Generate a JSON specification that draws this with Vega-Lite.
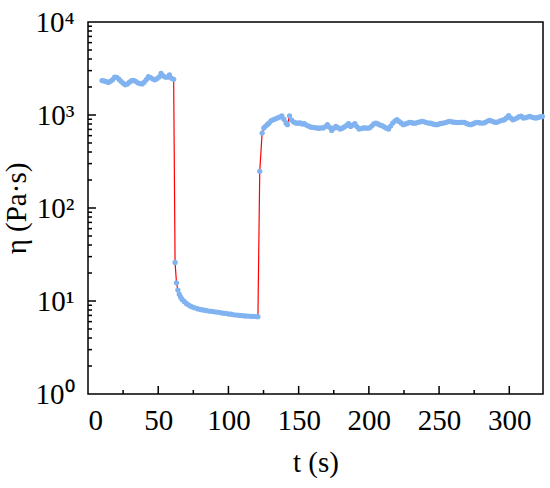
{
  "$schema": "https://vega.github.io/schema/vega-lite/v6.json",
  "width": 455,
  "height": 372,
  "autosize": "none",
  "padding": {"left": 88, "top": 22, "right": 7, "bottom": 94},
  "background": "white",
  "config": {
    "view": {"stroke": "black", "strokeWidth": 1.5},
    "font": "Liberation Serif",
    "axis": {
      "grid": false,
      "domain": false,
      "ticks": false,
      "tickSize": 0,
      "labelColor": "black",
      "titleColor": "black",
      "labelFont": "Liberation Serif",
      "titleFont": "Liberation Serif",
      "labelFontSize": 29,
      "titleFontSize": 29,
      "titleFontWeight": "normal",
      "labelOverlap": false
    },
    "rule": {"color": "black", "strokeWidth": 1.5}
  },
  "datasets": {
    "curve": [
      {"t": 10, "v": 2345}, {"t": 11.5, "v": 2320}, {"t": 13, "v": 2280}, {"t": 14.5, "v": 2240},
      {"t": 16, "v": 2300}, {"t": 17.5, "v": 2400}, {"t": 19, "v": 2560}, {"t": 20.5, "v": 2540},
      {"t": 22, "v": 2430}, {"t": 23.5, "v": 2300}, {"t": 25, "v": 2200}, {"t": 26.5, "v": 2110},
      {"t": 28, "v": 2160}, {"t": 29.5, "v": 2250}, {"t": 31, "v": 2340}, {"t": 32.5, "v": 2350},
      {"t": 34, "v": 2300}, {"t": 35.5, "v": 2220}, {"t": 37, "v": 2180}, {"t": 38.5, "v": 2160},
      {"t": 40, "v": 2250}, {"t": 41.5, "v": 2400}, {"t": 43, "v": 2580}, {"t": 44.5, "v": 2520},
      {"t": 46, "v": 2450}, {"t": 47.5, "v": 2390}, {"t": 49, "v": 2450}, {"t": 50.5, "v": 2560},
      {"t": 52, "v": 2800}, {"t": 53.5, "v": 2640}, {"t": 55, "v": 2560}, {"t": 56.5, "v": 2550},
      {"t": 58, "v": 2700}, {"t": 59.5, "v": 2480}, {"t": 61, "v": 2420},
      {"t": 62, "v": 26}, {"t": 63, "v": 15.7}, {"t": 64, "v": 13.1}, {"t": 65, "v": 11.8},
      {"t": 66, "v": 11.0}, {"t": 67, "v": 10.4}, {"t": 68.5, "v": 9.9}, {"t": 70, "v": 9.4},
      {"t": 71.5, "v": 9.1}, {"t": 73, "v": 8.8}, {"t": 74.5, "v": 8.6}, {"t": 76, "v": 8.45},
      {"t": 78, "v": 8.25}, {"t": 80, "v": 8.1}, {"t": 82, "v": 8.0}, {"t": 84, "v": 7.9},
      {"t": 86, "v": 7.8}, {"t": 88, "v": 7.75}, {"t": 90, "v": 7.65}, {"t": 92, "v": 7.6},
      {"t": 94, "v": 7.5}, {"t": 96, "v": 7.4}, {"t": 98, "v": 7.35}, {"t": 100, "v": 7.25},
      {"t": 102, "v": 7.2}, {"t": 104, "v": 7.1}, {"t": 106, "v": 7.05}, {"t": 108, "v": 7.0},
      {"t": 110, "v": 6.95}, {"t": 112, "v": 6.9}, {"t": 114, "v": 6.88}, {"t": 116, "v": 6.85},
      {"t": 118, "v": 6.82}, {"t": 120, "v": 6.8}, {"t": 121, "v": 6.78},
      {"t": 122.3, "v": 248}, {"t": 124, "v": 640}, {"t": 125.2, "v": 725}, {"t": 126.5, "v": 760},
      {"t": 127.8, "v": 790}, {"t": 129, "v": 820}, {"t": 130.5, "v": 870}, {"t": 132, "v": 890},
      {"t": 133.5, "v": 910}, {"t": 135, "v": 930}, {"t": 136.5, "v": 950}, {"t": 138, "v": 980},
      {"t": 139.5, "v": 900}, {"t": 141, "v": 820}, {"t": 142, "v": 786}, {"t": 143.5, "v": 980},
      {"t": 145, "v": 880}, {"t": 146.5, "v": 840}, {"t": 148, "v": 820}, {"t": 149.5, "v": 815},
      {"t": 151, "v": 820}, {"t": 152.5, "v": 800}, {"t": 154, "v": 805}, {"t": 155.5, "v": 780},
      {"t": 157, "v": 760}, {"t": 158.5, "v": 743}, {"t": 160, "v": 735}, {"t": 161.5, "v": 730},
      {"t": 163, "v": 725}, {"t": 164.5, "v": 720}, {"t": 166, "v": 728}, {"t": 167.5, "v": 725},
      {"t": 169, "v": 750}, {"t": 170.5, "v": 786}, {"t": 172, "v": 740}, {"t": 173.5, "v": 683},
      {"t": 175, "v": 720}, {"t": 176.5, "v": 754}, {"t": 178, "v": 730}, {"t": 179.5, "v": 707},
      {"t": 181, "v": 720}, {"t": 182.5, "v": 743}, {"t": 184, "v": 770}, {"t": 185.5, "v": 805},
      {"t": 187, "v": 754}, {"t": 188.5, "v": 780}, {"t": 190, "v": 805}, {"t": 191.5, "v": 750},
      {"t": 193, "v": 707}, {"t": 194.5, "v": 715}, {"t": 196, "v": 725}, {"t": 197.5, "v": 725},
      {"t": 199, "v": 722}, {"t": 200.5, "v": 728}, {"t": 202, "v": 760}, {"t": 203.5, "v": 800},
      {"t": 205, "v": 819}, {"t": 206.5, "v": 800}, {"t": 208, "v": 780}, {"t": 209.5, "v": 767},
      {"t": 211, "v": 745}, {"t": 212.5, "v": 720}, {"t": 214, "v": 707}, {"t": 215.5, "v": 760},
      {"t": 217, "v": 819}, {"t": 218.5, "v": 860}, {"t": 220, "v": 889}, {"t": 221.5, "v": 853},
      {"t": 223, "v": 820}, {"t": 224.5, "v": 786}, {"t": 226, "v": 800}, {"t": 227.5, "v": 815},
      {"t": 229, "v": 832}, {"t": 230.5, "v": 825}, {"t": 232, "v": 815}, {"t": 233.5, "v": 819},
      {"t": 235, "v": 835}, {"t": 236.5, "v": 845}, {"t": 238, "v": 853}, {"t": 239.5, "v": 845},
      {"t": 241, "v": 830}, {"t": 242.5, "v": 819}, {"t": 244, "v": 815}, {"t": 245.5, "v": 800},
      {"t": 247, "v": 790}, {"t": 248.5, "v": 786}, {"t": 250, "v": 800}, {"t": 251.5, "v": 812},
      {"t": 253, "v": 819}, {"t": 254.5, "v": 830}, {"t": 256, "v": 845}, {"t": 257.5, "v": 853},
      {"t": 259, "v": 845}, {"t": 260.5, "v": 838}, {"t": 262, "v": 832}, {"t": 263.5, "v": 830},
      {"t": 265, "v": 832}, {"t": 266.5, "v": 835}, {"t": 268, "v": 832}, {"t": 269.5, "v": 810},
      {"t": 271, "v": 795}, {"t": 272.5, "v": 786}, {"t": 274, "v": 800}, {"t": 275.5, "v": 820},
      {"t": 277, "v": 832}, {"t": 278.5, "v": 825}, {"t": 280, "v": 819}, {"t": 281.5, "v": 819},
      {"t": 283, "v": 835}, {"t": 284.5, "v": 860}, {"t": 286, "v": 875}, {"t": 287.5, "v": 860},
      {"t": 289, "v": 845}, {"t": 290.5, "v": 832}, {"t": 292, "v": 845}, {"t": 293.5, "v": 865},
      {"t": 295, "v": 880}, {"t": 296.5, "v": 889}, {"t": 298, "v": 930}, {"t": 299.5, "v": 982},
      {"t": 301, "v": 930}, {"t": 302.5, "v": 889}, {"t": 304, "v": 904}, {"t": 305.5, "v": 930},
      {"t": 307, "v": 960}, {"t": 308.5, "v": 970}, {"t": 310, "v": 927}, {"t": 311.5, "v": 935},
      {"t": 313, "v": 950}, {"t": 314.5, "v": 964}, {"t": 316, "v": 950}, {"t": 317.5, "v": 935},
      {"t": 319, "v": 927}, {"t": 320.5, "v": 940}, {"t": 322, "v": 955}, {"t": 323.5, "v": 964}
    ],
    "yMajor": [{"v": 10}, {"v": 100}, {"v": 1000}],
    "yMinor": [
      {"v": 2}, {"v": 3}, {"v": 4}, {"v": 5}, {"v": 6}, {"v": 7}, {"v": 8}, {"v": 9},
      {"v": 20}, {"v": 30}, {"v": 40}, {"v": 50}, {"v": 60}, {"v": 70}, {"v": 80}, {"v": 90},
      {"v": 200}, {"v": 300}, {"v": 400}, {"v": 500}, {"v": 600}, {"v": 700}, {"v": 800}, {"v": 900},
      {"v": 2000}, {"v": 3000}, {"v": 4000}, {"v": 5000}, {"v": 6000}, {"v": 7000}, {"v": 8000}, {"v": 9000}
    ],
    "xMajor": [{"t": 50}, {"t": 100}, {"t": 150}, {"t": 200}, {"t": 250}, {"t": 300}],
    "xMinor": [{"t": 25}, {"t": 75}, {"t": 125}, {"t": 175}, {"t": 225}, {"t": 275}]
  },
  "layer": [
    {
      "data": {"name": "curve"},
      "mark": {"type": "line", "color": "#ff0000", "strokeWidth": 1.2},
      "encoding": {
        "x": {
          "field": "t",
          "type": "quantitative",
          "scale": {"domain": [0, 324], "nice": false, "zero": false},
          "axis": {
            "title": "t (s)",
            "titlePadding": 13,
            "values": [0, 50, 100, 150, 200, 250, 300],
            "labelPadding": 12
          }
        },
        "y": {
          "field": "v",
          "type": "quantitative",
          "scale": {"type": "log", "domain": [1, 10000], "nice": false},
          "axis": {
            "title": "η (Pa·s)",
            "titlePadding": 3,
            "values": [1, 10, 100, 1000, 10000],
            "labelExpr": "datum.value == 1 ? '10⁰' : datum.value == 10 ? '10¹' : datum.value == 100 ? '10²' : datum.value == 1000 ? '10³' : '10⁴'",
            "labelPadding": 14
          }
        }
      }
    },
    {
      "data": {"name": "curve"},
      "mark": {"type": "circle", "color": "#80b3f0", "opacity": 1, "size": 28},
      "encoding": {
        "x": {"field": "t", "type": "quantitative"},
        "y": {"field": "v", "type": "quantitative"}
      }
    },
    {
      "data": {"name": "yMajor"},
      "mark": {"type": "rule"},
      "encoding": {
        "y": {"field": "v", "type": "quantitative"},
        "x": {"datum": 0},
        "x2": {"datum": 5.7}
      }
    },
    {
      "data": {"name": "yMinor"},
      "mark": {"type": "rule"},
      "encoding": {
        "y": {"field": "v", "type": "quantitative"},
        "x": {"datum": 0},
        "x2": {"datum": 2.85}
      }
    },
    {
      "data": {"name": "xMajor"},
      "mark": {"type": "rule"},
      "encoding": {
        "x": {"field": "t", "type": "quantitative"},
        "y": {"datum": 1},
        "y2": {"datum": 1.219}
      }
    },
    {
      "data": {"name": "xMinor"},
      "mark": {"type": "rule"},
      "encoding": {
        "x": {"field": "t", "type": "quantitative"},
        "y": {"datum": 1},
        "y2": {"datum": 1.104}
      }
    }
  ]
}
